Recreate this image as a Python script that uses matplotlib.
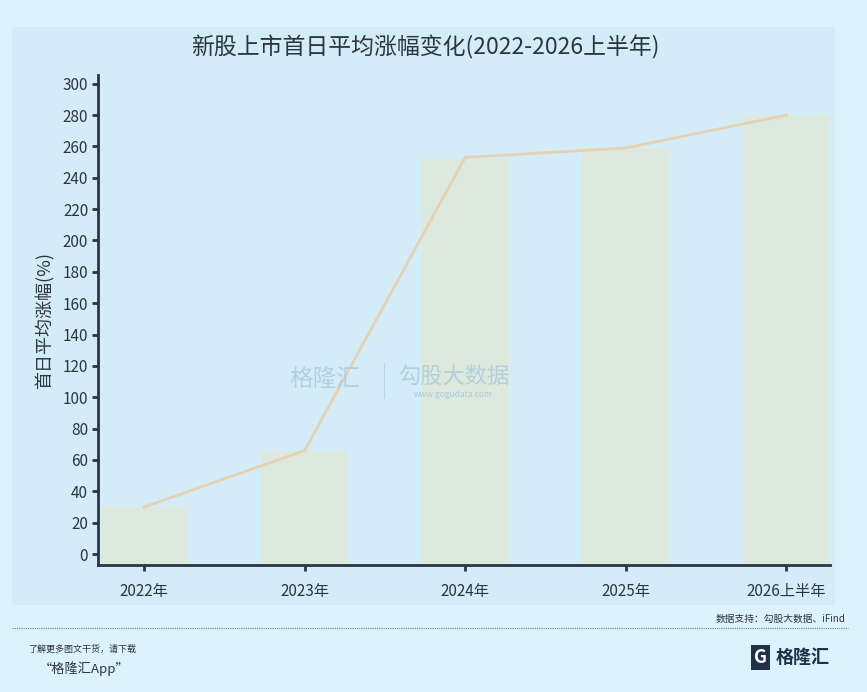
import numpy as np
import matplotlib.pyplot as plt
from matplotlib.lines import Line2D

plt.rcParams['font.family'] = ['Noto Sans CJK SC', 'DejaVu Sans']

years = ['2022年', '2023年', '2024年', '2025年', '2026上半年']
bar_vals = [30, 66, 252, 259, 280]
line_vals = [30, 66, 253, 259, 280]
yticks = np.arange(0, 301, 20)

fig = plt.figure(figsize=(8.67, 6.92), dpi=100)
fig.patch.set_facecolor('#dcf2fc')

# inner panel (background axes)
bg = fig.add_axes([0.014, 0.126, 0.949, 0.835], zorder=-1)
bg.set_facecolor('#d4ecf8')
bg.set_xticks([])
bg.set_yticks([])
for s in bg.spines.values():
    s.set_visible(False)

ax = fig.add_axes([0.113, 0.1835, 0.844, 0.708])
ax.set_facecolor('none')
ymin = -7
x = np.arange(len(years))
# bars run down to the bottom spine, as in the original
ax.bar(x, np.array(bar_vals) - ymin, bottom=ymin, width=0.54, color='#dce9dc', zorder=1)
ax.plot(x, line_vals, color='#e4d2b3', linewidth=2, zorder=2)

ax.set_xlim(-0.287, 4.27)
ax.set_ylim(ymin, 305.5)
ax.set_xticks(x)
ax.set_xticklabels(years, fontsize=11, color='#2b3640')
ax.set_yticks(yticks)
ax.set_yticklabels([str(v) for v in yticks], fontsize=11, color='#2b3640')
for s in ['top', 'right']:
    ax.spines[s].set_visible(False)
for s in ['left', 'bottom']:
    ax.spines[s].set_linewidth(2)
    ax.spines[s].set_color('#2b3640')
ax.tick_params(axis='both', length=4, width=2, color='#2b3640', pad=3)
ax.tick_params(axis='x', pad=9)
ax.set_ylabel('首日平均涨幅(%)', fontsize=13, color='#2b3640', labelpad=6)

fig.text(0.49, 0.932, '新股上市首日平均涨幅变化(2022-2026上半年)', ha='center', va='center',
         fontsize=16.5, color='#2b3640')

# watermark
fig.text(0.375, 0.452, '格隆汇', ha='center', va='center', fontsize=17, color='#a9c9dd', alpha=0.8)
fig.text(0.523, 0.455, '勾股大数据', ha='center', va='center', fontsize=16, color='#a9c9dd', alpha=0.8)
fig.text(0.523, 0.43, 'www.gogudata.com', ha='center', va='center', fontsize=6, color='#a9c9dd')
fig.add_artist(Line2D([0.443, 0.443], [0.425, 0.475], transform=fig.transFigure,
                      color='#b8d4e4', linewidth=0.8))

# source and footer
fig.text(0.975, 0.105, '数据支持：勾股大数据、iFind', ha='right', va='center', fontsize=7, color='#2b3640')
fig.add_artist(Line2D([0.014, 0.978], [0.092, 0.092], transform=fig.transFigure,
                      color='#6a7a85', linewidth=0.8, linestyle=(0, (1, 1))))
fig.text(0.032, 0.061, '了解更多图文干货，请下载', ha='left', va='center', fontsize=6.5,
         style='italic', color='#2b3640')
fig.text(0.045, 0.033, '“格隆汇App”', ha='left', va='center', fontsize=9.5,
         style='italic', color='#2b3640')
fig.text(0.957, 0.05, '格隆汇', ha='right', va='center', fontsize=13, fontweight='bold', color='#1e3148')
fig.text(0.877, 0.05, 'G', ha='center', va='center', fontsize=13, fontweight='bold', color='white',
         bbox=dict(boxstyle='square,pad=0.15', facecolor='#1e3148', edgecolor='none'))

fig.savefig('out.png', dpi=100, facecolor=fig.get_facecolor())
